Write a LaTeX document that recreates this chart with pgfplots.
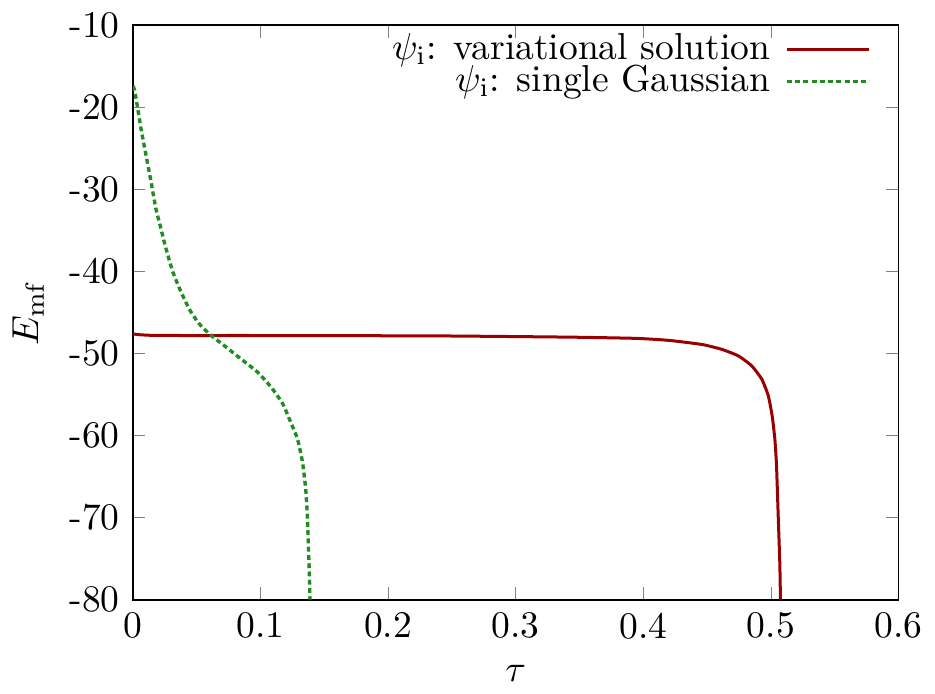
\documentclass[border=0pt]{standalone}
\usepackage{pgfplots}
\pgfplotsset{compat=1.18}
\definecolor{darkred}{HTML}{990000}
\definecolor{forestgreen}{HTML}{228B22}
\begin{document}
\begin{tikzpicture}
\begin{axis}[
  scale only axis,
  width=204pt, height=153pt,
  xmin=0, xmax=0.6, ymin=-80, ymax=-10,
  xtick={0,0.1,0.2,0.3,0.4,0.5,0.6},
  xticklabels={0,0.1,0.2,0.3,0.4,0.5,0.6},
  ytick={-80,-70,-60,-50,-40,-30,-20,-10},
  yticklabels={-80,-70,-60,-50,-40,-30,-20,-10},
  tick align=inside,
  major tick length=3.3pt,
  minor tick num=0,
  xlabel={$\tau$},
  ylabel={$E_{\rm mf}$},
  axis line style={line width=0.5pt},
  legend plot pos=right,
  legend cell align=right,
  legend style={draw=none, fill=none, at={(0.98,1.0)}, anchor=north east, yshift=0pt, row sep=0pt, font=\normalsize,
    nodes={inner ysep=0.5pt, text height=1.45ex, text depth=0.3ex}},
  legend image code/.code={\path (0pt,0pt); \draw[#1] (2pt,0pt) -- (24pt,0pt);},
]
\addplot[darkred, line width=0.8pt, smooth, tension=0.3] coordinates {
(0,-47.6) (0.005,-47.7) (0.015,-47.78) (0.04,-47.8) (0.1,-47.8) (0.24,-47.85) (0.343,-48.0) (0.3947,-48.15) (0.4205,-48.4)
(0.4463,-48.9) (0.4618,-49.5) (0.4747,-50.3) (0.4850,-51.5) (0.4928,-53.1) (0.4979,-55.1) (0.5010,-57.6) (0.5031,-60.4) (0.5044,-63.6)
(0.5057,-69.6) (0.5070,-75.6) (0.5075,-80)
};
\addlegendentry{$\psi_{\rm i}$: variational solution}
\addplot[forestgreen, line width=0.9pt, dash pattern=on 1.3pt off 0.9pt, smooth, tension=0.3] coordinates {
(0,-17.4) (0.0013,-17.8) (0.0039,-20.2) (0.0064,-22.6) (0.0103,-25.8) (0.0142,-29.0) (0.018,-32.3) (0.0219,-34.7)
(0.0258,-37.1) (0.031,-39.9) (0.0361,-41.9) (0.0439,-44.5) (0.0516,-46.3) (0.0606,-47.7) (0.0697,-48.8)
(0.0851,-50.7) (0.098,-52.3) (0.1084,-54.1) (0.1174,-56.1) (0.1238,-58.4) (0.129,-60.4) (0.1329,-63.2)
(0.1354,-66.4) (0.1367,-69.6) (0.1375,-73.2) (0.1383,-76.8) (0.1388,-80)
};
\addlegendentry{$\psi_{\rm i}$: single Gaussian}
\end{axis}
\end{tikzpicture}
\end{document}
